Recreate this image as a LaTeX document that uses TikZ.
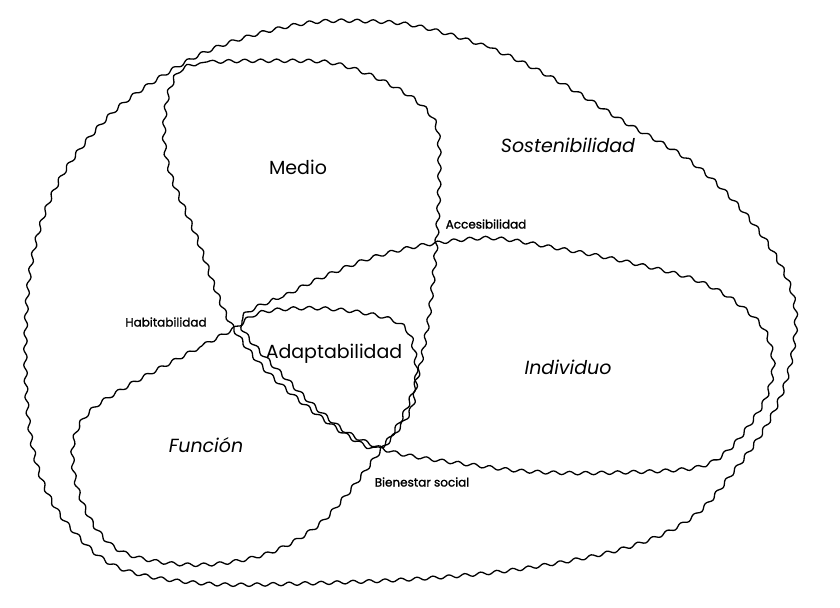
\documentclass[tikz,border=0pt]{standalone}
\usepackage{fontspec}
\setmainfont{Poppins}
\newfontfamily\tagfont[FakeBold=1.4]{Poppins}
\usetikzlibrary{decorations.pathmorphing}

\begin{document}
\begin{tikzpicture}[x=0.5pt,y=-0.5pt,
  wavy/.style={draw=black, line width=0.65pt, decorate,
               decoration={snake, segment length=8pt, amplitude=0.85pt}},
  bigtag/.style={font=\fontsize{9.5}{11}\selectfont},
  itatag/.style={font=\fontsize{9.5}{11}\selectfont\itshape},
  smalltag/.style={font=\tagfont\fontsize{6}{7}\selectfont}
]
  \useasboundingbox (0,0) rectangle (840,608);

  % outer set
  \draw[wavy] plot[smooth cycle, tension=0.6] coordinates {
    (420,26) (490,48) (555,80) (620,120) (687,160) (737,207) (775,260)
    (792,310) (785,370) (765,420) (730,470) (687,517) (620,547) (520,567)
    (420,577) (300,582) (200,582) (117,567) (70,530) (40,483) (25,420)
    (22,330) (30,250) (55,180) (100,120) (150,80) (215,45) (300,22) (370,20)};

  % Medio
  \draw[wavy] plot[smooth cycle, tension=0.55] coordinates {
    (300,60) (200,63) (175,85) (168,133) (175,175) (200,235) (220,290)
    (237,327) (270,370) (320,413) (365,443) (385,446) (405,418) (420,380)
    (432,320) (440,243) (443,170) (440,125) (420,100) (380,77) (340,63)};

  % Individuo
  \draw[wavy] plot[smooth cycle, tension=0.5] coordinates {
    (237,325) (283,297) (317,280) (367,260) (420,247) (487,240) (553,250)
    (620,263) (687,280) (727,300) (760,330) (770,367) (760,405) (727,450)
    (690,470) (587,475) (520,473) (470,467) (420,460) (383,452) (340,432)
    (290,388)};

  % Funcion
  \draw[wavy] plot[smooth cycle, tension=0.6] coordinates {
    (237,327) (200,347) (133,383) (93,410) (77,440) (80,483) (100,527)
    (133,553) (200,563) (267,553) (317,527) (350,493) (383,450) (400,430)
    (417,400) (418,350) (400,320) (333,307) (267,310)};

  \node[itatag] (sost) at (568,145) {Sostenibilidad};
  \node[bigtag] (medio) at (298,167) {Medio};
  \node[smalltag] (acc) at (486,224) {Accesibilidad};
  \node[smalltag] (hab) at (166,322) {Habitabilidad};
  \node[bigtag] (adap) at (334,354) {Adaptabilidad};
  \node[itatag] (indiv) at (568,367) {Individuo};
  \node[itatag] (func) at (206,445) {Función};
  \node[smalltag] (bien) at (422,482) {Bienestar social};
\end{tikzpicture}
\end{document}
